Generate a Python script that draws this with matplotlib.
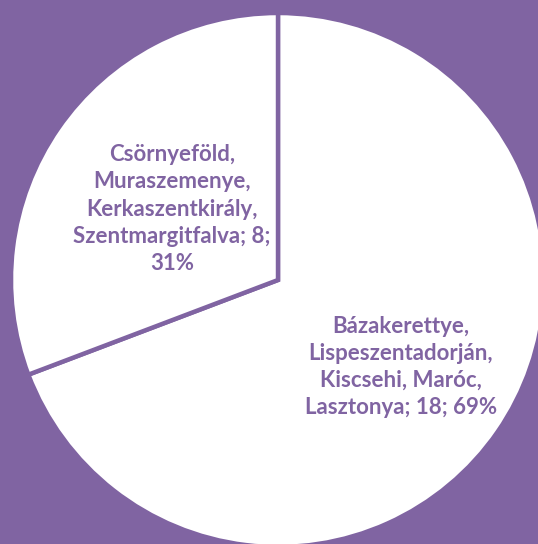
import matplotlib
matplotlib.use("Agg")
import matplotlib.pyplot as plt

# Data
labels = [
    "Bázakerettye,\nLispeszentadorján,\nKiscsehi, Maróc,\nLasztonya",
    "Csörnyeföld,\nMuraszemenye,\nKerkaszentkirály,\nSzentmargitfalva",
]
values = [18, 8]
label_pos = [(401, 177), (172, 335)]  # text centres in pixel coords (y from bottom)

PURPLE = "#8064A2"

fig = plt.figure(figsize=(5.38, 5.44), dpi=100)
fig.patch.set_facecolor(PURPLE)
ax = fig.add_axes([0, 0, 1, 1])
ax.set_facecolor(PURPLE)

ax.pie(values, center=(278, 264), radius=267, startangle=90, counterclock=False,
       colors=["white", "white"],
       wedgeprops=dict(edgecolor=PURPLE, linewidth=3.2))
ax.set_xlim(0, 538)
ax.set_ylim(0, 544)
ax.set_aspect("equal")
ax.axis("off")

total = sum(values)
for lab, v, (x, y) in zip(labels, values, label_pos):
    pct = round(v / total * 100)
    text = f"{lab}; {v};\n{pct}%" if v == 8 else f"{lab}; {v}; {pct}%"
    ax.text(x, y, text, ha="center", va="center", color=PURPLE,
            fontsize=16, fontweight="bold", family="Lato", linespacing=1.36)

fig.savefig("out.png", dpi=100, facecolor=PURPLE)
